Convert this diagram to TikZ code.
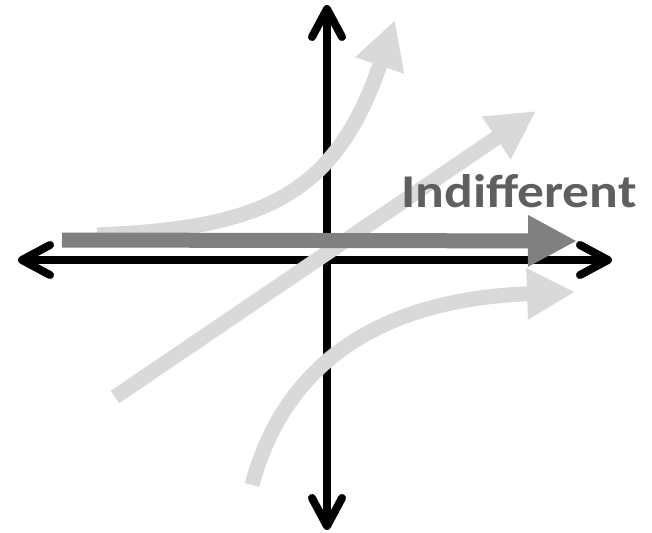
\documentclass[tikz,border=0pt]{standalone}
\usepackage{fontspec}
\setmainfont{Carlito}
\usetikzlibrary{arrows.meta}
\definecolor{lightg}{HTML}{D9D9D9}
\definecolor{darkg}{HTML}{808080}
\definecolor{textg}{HTML}{5F5F5F}
\begin{document}
\begin{tikzpicture}[x=1pt,y=-1pt,
  axis/.style={line width=8pt,draw=black,
    {Straight Barb[round,length=28pt,width=30pt]}-{Straight Barb[round,length=28pt,width=30pt]}},
  lightarrow/.style={line width=15pt,draw=lightg,
    -{Triangle[length=48pt,width=48pt]}},
  darkarrow/.style={line width=15pt,draw=darkg,
    -{Triangle[length=49pt,width=48pt]}},
  lbl/.style={font=\fontsize{47}{50}\selectfont\bfseries,text=textg,inner sep=0pt,anchor=base west}]
\useasboundingbox (0,0) rectangle (652,532);
% axes
\coordinate (L) at (18,260);
\coordinate (R) at (612,260);
\coordinate (T) at (327,5);
\coordinate (B) at (327,530);
\draw[axis] (L) -- (R);
\draw[axis] (B) -- (T);
% light arrows
\coordinate (u0) at (97,235);
\coordinate (u1) at (395,20);
\draw[lightarrow] (u0) .. controls (260,228) and (335,198) .. (u1);
\coordinate (s0) at (115,397);
\coordinate (s1) at (536,111);
\draw[lightarrow] (s0) -- (s1);
\coordinate (w0) at (252,485);
\coordinate (w1) at (575,292);
\draw[lightarrow] (w0) .. controls (280,380) and (360,300) .. (w1);
% dark arrow
\coordinate (d0) at (62,240);
\coordinate (d1) at (577,241);
\draw[darkarrow] (d0) -- (d1);
\node[lbl] (ind) at (401,207) {\scalebox{1.14}[1]{Indifferent}};
\end{tikzpicture}
\end{document}
